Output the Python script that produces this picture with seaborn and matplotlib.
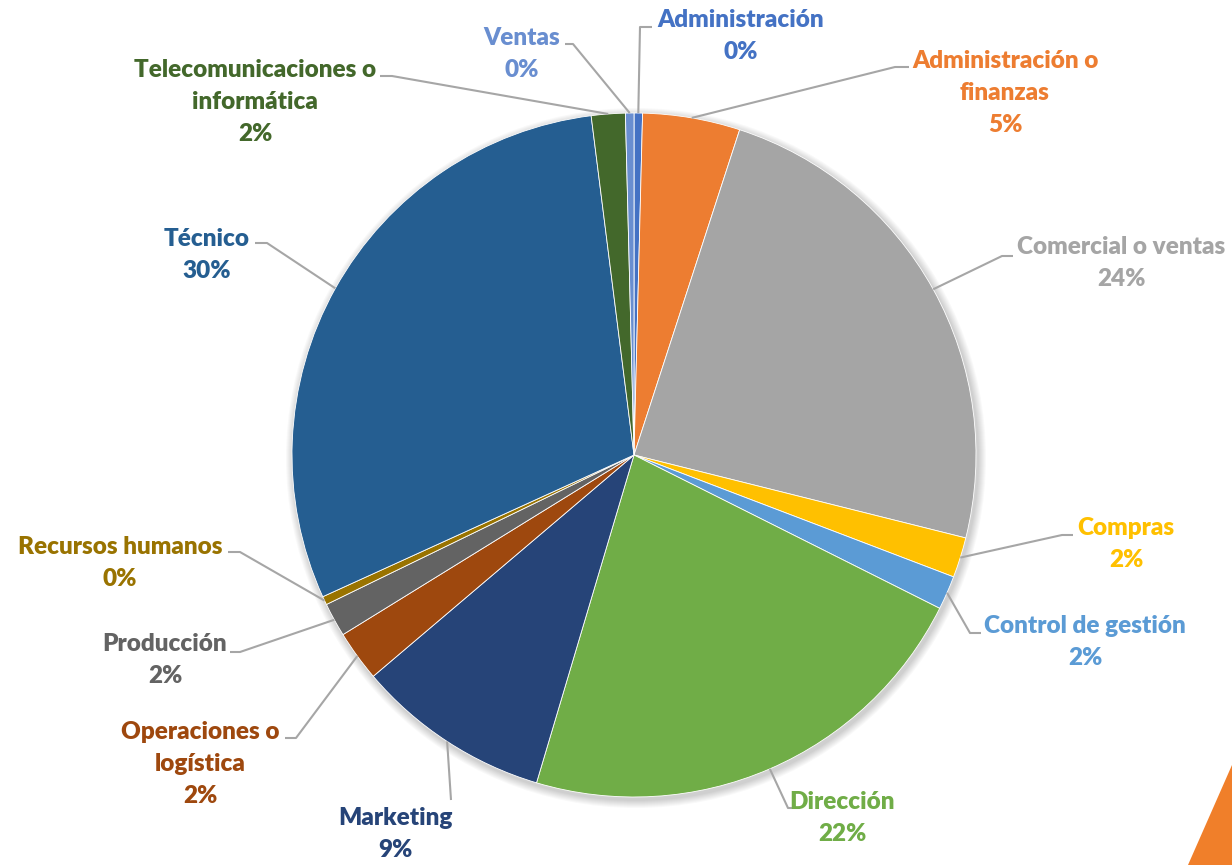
import matplotlib
matplotlib.use("Agg")
import matplotlib.pyplot as plt
import matplotlib.patches as mpatches
import seaborn as sns
import numpy as np

# Data (share of respondents by area, %)
areas = ["Administración", "Administración o\nfinanzas", "Comercial o ventas", "Compras",
         "Control de gestión", "Dirección", "Marketing", "Operaciones o\nlogística",
         "Producción", "Recursos humanos", "Técnico", "Telecomunicaciones o\ninformática",
         "Ventas"]
shares = [0.4, 4.6, 23.9, 1.9, 1.6, 22.2, 9.2, 2.4, 1.6, 0.4, 29.8, 1.6, 0.4]
colors = ["#4472C4", "#ED7D31", "#A5A5A5", "#FFC000", "#5B9BD5", "#70AD47", "#264478",
          "#9E480E", "#636363", "#997300", "#255E91", "#43682B", "#698ED0"]

# Layout (pixels, y downwards): label block centre, leader elbow, leader end
label_pos = [(741, 36), (1005, 93), (1121, 263), (1126, 544), (1085, 642), (842, 818),
             (395, 834), (200, 764), (165, 660), (120, 563), (207, 255), (255, 102), (522, 54)]
leader_elbow = [(640, 27), (895, 67), (1002, 256), (1062, 535), (970, 633), (788, 808),
                (451, 800), (296, 738), (240, 652), (240, 552), (267, 243), (392, 76), (573, 44)]
leader_end = [(652, 27), (909, 67), (1013, 256), (1073, 535), (981, 633), (800, 808),
              (451, 800), (285, 738), (230, 652), (228, 552), (255, 243), (380, 76), (565, 44)]

W, H = 1232, 865
CX, CY, R = 634, 455, 342

sns.set_theme(style="white")
plt.rcParams["font.family"] = ["Lato", "DejaVu Sans"]

fig = plt.figure(figsize=(W / 100, H / 100), dpi=100)
ax = fig.add_axes([0, 0, 1, 1])
ax.set_xlim(0, W)
ax.set_ylim(H, 0)
ax.set_aspect("equal")
ax.axis("off")

# soft shadow behind the pie
for k in range(8):
    ax.add_patch(mpatches.Circle((CX + 2, CY + 3), R + 1 + k, color="black",
                                 alpha=0.025, lw=0, zorder=0))

palette = sns.color_palette(colors)
# y axis is inverted, so start at -90 and go "counterclock" to get clockwise from 12 o'clock
wedges, _ = ax.pie(shares, colors=palette, startangle=-90, counterclock=True,
                   center=(CX, CY), radius=R, frame=True,
                   wedgeprops=dict(edgecolor="white", linewidth=0.6))
ax.set_xlim(0, W)
ax.set_ylim(H, 0)
ax.axis("off")

total = sum(shares)
for i, w in enumerate(wedges):
    mid = np.deg2rad((w.theta1 + w.theta2) / 2)
    sx, sy = CX + R * np.cos(mid), CY + R * np.sin(mid)
    ex, ey = leader_elbow[i]
    tx, ty = leader_end[i]
    ax.plot([sx, ex, tx], [sy, ey, ty], color="#A6A6A6", lw=1.5, zorder=3,
            solid_capstyle="butt")
    pct = round(shares[i] / total * 100)
    ax.text(label_pos[i][0], label_pos[i][1], f"{areas[i]}\n{pct}%", color=colors[i],
            ha="center", va="center", fontsize=17.5, fontweight="heavy",
            linespacing=1.55, zorder=4)

# orange decoration in the lower right corner of the slide
fig.patches.append(mpatches.Polygon([(1188 / W, 0), (1232 / W, 100 / H), (1, 0)],
                                    closed=True, transform=fig.transFigure,
                                    facecolor="#F07F2A", edgecolor="none"))

fig.savefig("out.png", dpi=100)
